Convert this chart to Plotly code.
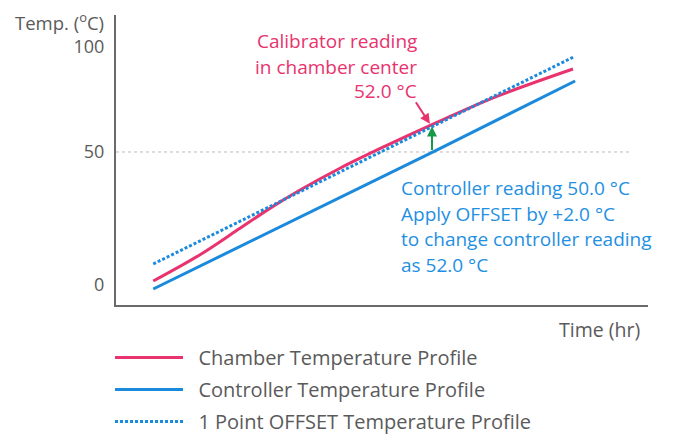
import plotly.graph_objects as go

# ---- data (schematic units) ----
chamber_x = [7, 15.8, 22.4, 29, 34.6, 42.1, 50.6, 59.6, 71.6, 85.9]
chamber_y = [1.5, 11.4, 20.1, 28.9, 35.7, 43.9, 52.2, 60.5, 70.9, 81.2]

controller_x = [7, 60, 86.3]
controller_y = [-1.5, 50.4, 76.7]

offset_x = [7, 60, 86]
offset_y = [7.9, 60.1, 85.7]

series_names = ["Chamber Temperature Profile",
                "Controller Temperature Profile",
                "1 Point OFFSET Temperature Profile"]

y_tick_vals = [0, 50, 89.5]
y_tick_text = ["0", "50", "100"]

pink_lines = ["Calibrator reading", "in chamber center", "52.0 °C"]
blue_lines = ["Controller reading 50.0 °C", "Apply OFFSET by +2.0 °C",
              "to change controller reading", "as 52.0 °C"]

PINK = "#E8336E"
BLUE = "#1B8ADC"
BLUE_TXT = "#1F90E2"
GREEN = "#17994A"
GRAY_TXT = "#5A5A5A"
AXIS = "#6A6A6A"
FONT = "Open Sans"
PAD = "\u00a0\u00a0"

fig = go.Figure()
fig.add_trace(go.Scatter(x=chamber_x, y=chamber_y, mode="lines", name=PAD + series_names[0],
                         line=dict(color=PINK, width=3, shape="spline", smoothing=1.0),
                         legendgroup="a"))
fig.add_trace(go.Scatter(x=controller_x, y=controller_y, mode="lines", name=PAD + series_names[1],
                         line=dict(color=BLUE, width=3), legendgroup="b"))
fig.add_trace(go.Scatter(x=offset_x, y=offset_y, mode="lines", name=PAD + series_names[2],
                         line=dict(color=BLUE, width=3, dash="3px,2px"), legendgroup="c"))

# 50 gridline
fig.add_shape(type="line", xref="x", yref="y", x0=0, x1=96.6, y0=50, y1=50,
              line=dict(color="#BBBBBB", width=1, dash="dot"), layer="below")

ann = []
pink_y = [91.6, 82.0, 73.0]
for t, yy in zip(pink_lines, pink_y):
    ann.append(dict(x=57.0, y=yy, xref="x", yref="y", text=t, showarrow=False,
                    xanchor="right", yanchor="middle",
                    font=dict(family=FONT, size=19, color=PINK)))
blue_y = [36.5, 26.7, 17.3, 7.5]
for t, yy in zip(blue_lines, blue_y):
    ann.append(dict(x=53.2, y=yy, xref="x", yref="y", text=t, showarrow=False,
                    xanchor="left", yanchor="middle",
                    font=dict(family=FONT, size=19, color=BLUE_TXT)))
# arrows
ann.append(dict(x=59.0, y=60.6, xref="x", yref="y", text="", showarrow=True,
                ax=-15, ay=-23, arrowhead=2, arrowsize=1, arrowwidth=2, arrowcolor=PINK))
ann.append(dict(x=59.4, y=59.6, xref="x", yref="y", text="", showarrow=True,
                ax=0, ay=25, arrowhead=2, arrowsize=1, arrowwidth=2, arrowcolor=GREEN))
# axis titles
ann.append(dict(x=-0.0185, y=0.976, xref="paper", yref="paper", text="Temp. (<sup>o</sup>C)",
                showarrow=False, xanchor="right", yanchor="middle",
                font=dict(family=FONT, size=18.5, color=GRAY_TXT)))
ann.append(dict(x=0.908, y=-0.083, xref="paper", yref="paper", text="Time (hr)",
                showarrow=False, xanchor="center", yanchor="middle",
                font=dict(family=FONT, size=19.5, color=GRAY_TXT)))

fig.update_layout(
    width=675, height=435,
    margin=dict(l=116, r=27, t=15, b=130, autoexpand=False),
    paper_bgcolor="white", plot_bgcolor="white",
    annotations=ann,
    showlegend=True,
    legend=dict(xref="container", yref="container", x=0.163, y=0.223,
                xanchor="left", yanchor="top",
                orientation="v", itemwidth=68, tracegroupgap=3,
                font=dict(family=FONT, size=20, color=GRAY_TXT),
                bgcolor="rgba(0,0,0,0)"),
    xaxis=dict(range=[0, 100], showline=True, linecolor=AXIS, linewidth=2,
               showgrid=False, zeroline=False, showticklabels=False, ticks="",
               automargin=False),
    yaxis=dict(range=[-7.52, 101.5], showline=True, linecolor=AXIS, linewidth=2,
               showgrid=False, zeroline=False, ticks="", tickvals=y_tick_vals,
               ticktext=y_tick_text, ticklabelstandoff=6, automargin=False,
               tickfont=dict(family=FONT, size=18, color=GRAY_TXT)),
)

fig.write_html("out.html", config={"displayModeBar": False},
               post_script="document.body.style.margin='0';")
